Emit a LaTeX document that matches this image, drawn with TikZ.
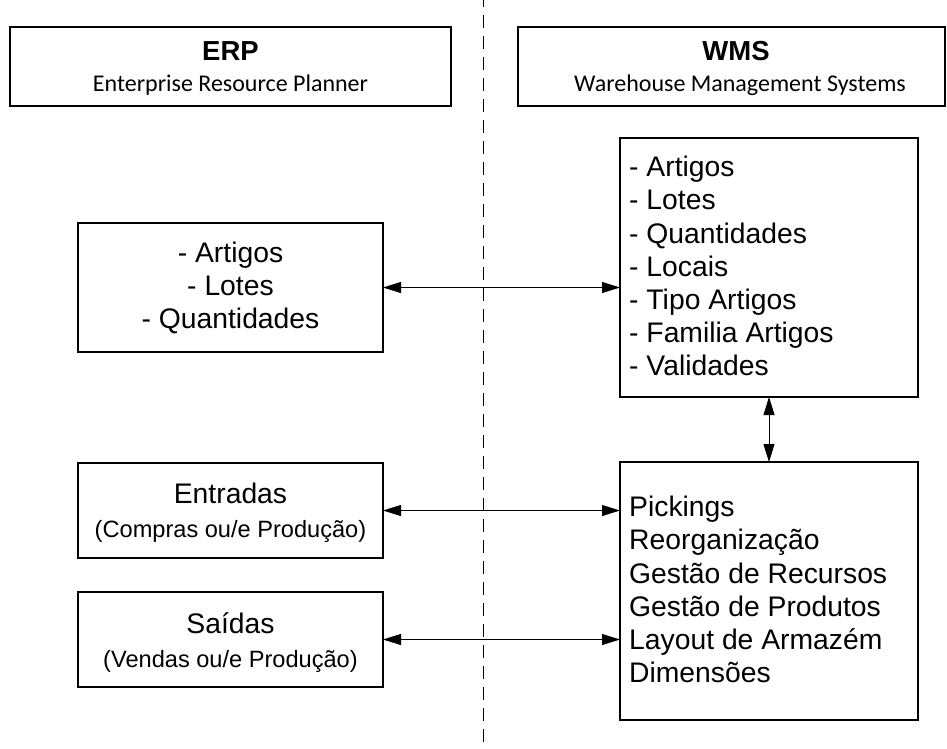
\documentclass[tikz,border=0pt]{standalone}
\usepackage{fontspec}
\setmainfont{Liberation Sans}
\newfontfamily\calfont{Carlito}
\usetikzlibrary{arrows.meta}
\begin{document}
\begin{tikzpicture}[x=1pt,y=-1pt,
  box/.style={draw, line width=1.3pt, inner sep=0pt, outer sep=0pt},
  link/.style={line width=0.9pt, {Triangle[length=18pt,width=11pt]}-{Triangle[length=18pt,width=11pt]}},
  main/.style={inner sep=0pt, anchor=base, font=\fontsize{28.3}{33}\selectfont},
  mainl/.style={main, anchor=base west},
  sub/.style={inner sep=0pt, anchor=base, font=\fontsize{23.6}{28}\selectfont},
  head/.style={inner sep=0pt, anchor=base, font=\fontsize{27.5}{32}\selectfont\bfseries},
  headsub/.style={inner sep=0pt, anchor=base, font=\calfont\fontsize{24}{29}\selectfont},
]
\useasboundingbox (0,0) rectangle (947,748);
\fill[white] (0,0) rectangle (947,748);

% divider
\coordinate (dtop) at (483.5,0);
\coordinate (dbot) at (483.5,748);
\draw[line width=1.3pt, dash pattern=on 13pt off 8pt, dash phase=6pt] (dtop) -- (dbot);

% header boxes
\node[box, minimum width=441pt, minimum height=79pt] (erp) at (230.5,66.5) {};
\node[head] (erpt) at (230.5,60) {ERP};
\node[headsub] (erps) at (230.5,91) {Enterprise Resource Planner};

\node[box, minimum width=427pt, minimum height=79pt] (wms) at (731.5,66.5) {};
\node[head] (wmst) at (736,60) {WMS};
\node[headsub] (wmss) at (740,91) {Warehouse Management Systems};

% left boxes
\node[box, minimum width=305pt, minimum height=129pt] (l1) at (230.5,287.5) {};
\node[main] (l1a) at (230.5,262) {- Artigos};
\node[main] (l1b) at (230.5,295) {- Lotes};
\node[main] (l1c) at (230.5,328) {- Quantidades};

\node[box, minimum width=305pt, minimum height=95pt] (ent) at (230.5,510.5) {};
\node[main] (entt) at (230.5,503) {Entradas};
\node[sub] (ents) at (230.5,537) {(Compras ou/e Produção)};

\node[box, minimum width=305pt, minimum height=95pt] (sai) at (230.5,639.5) {};
\node[main] (sait) at (230.5,633) {Saídas};
\node[sub] (sais) at (230.5,667) {(Vendas ou/e Produção)};

% right boxes
\node[box, minimum width=298pt, minimum height=259pt] (r1) at (769,267.5) {};
\foreach \t [count=\i] in {- Artigos,- Lotes,- Quantidades,- Locais,- Tipo Artigos,- Familia Artigos,- Validades}
  \node[mainl] (r1t\i) at (629,{176.7+33.2*(\i-1)}) {\t};

\node[box, minimum width=298pt, minimum height=258pt] (r2) at (769,591) {};
\foreach \t [count=\i] in {Pickings,Reorganização,Gestão de Recursos,Gestão de Produtos,Layout de Armazém,Dimensões}
  \node[mainl] (r2t\i) at (629,{516.7+33.2*(\i-1)}) {\t};

% connectors
\draw[link] (l1.east) -- (l1.east -| r1.west);
\draw[link] (ent.east) -- (ent.east -| r2.west);
\draw[link] (sai.east) -- (sai.east -| r2.west);
\draw[link] (r1.south) -- (r2.north);
\end{tikzpicture}
\end{document}
